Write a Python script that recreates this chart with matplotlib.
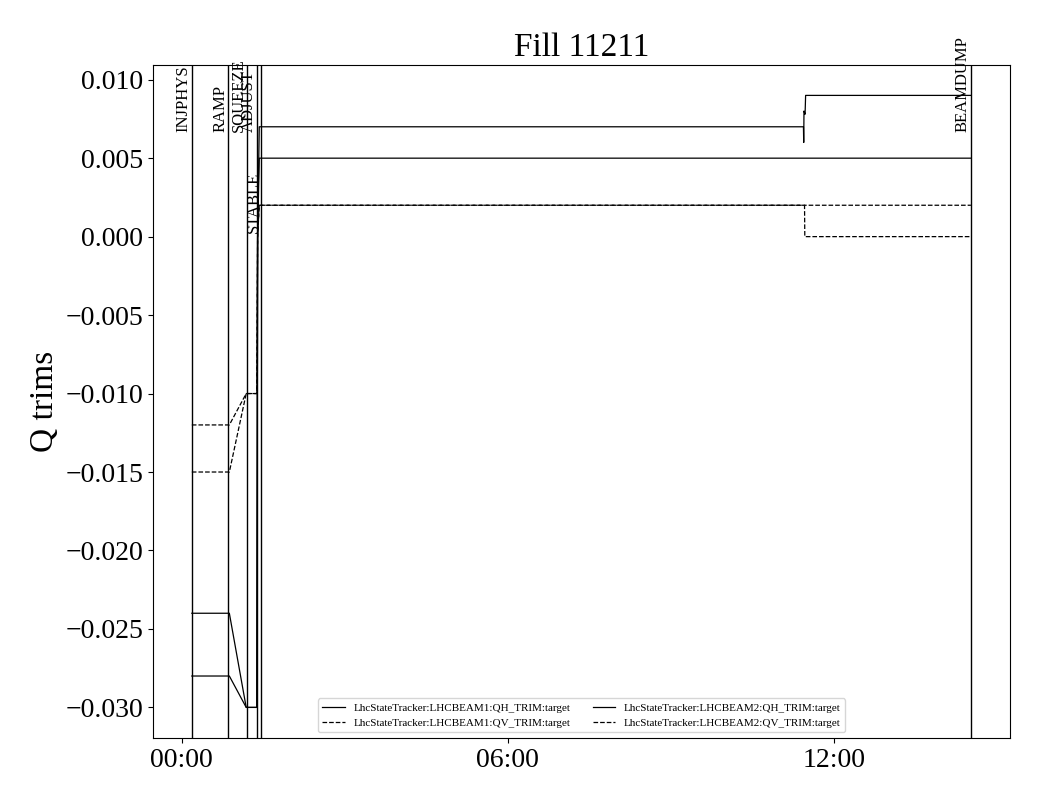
import datetime as dt
import matplotlib
matplotlib.use("Agg")
import matplotlib.pyplot as plt
import matplotlib.dates as mdates
import matplotlib.transforms as mtransforms
import matplotlib.ticker as mticker

plt.rcParams['font.family'] = ['Liberation Serif', 'DejaVu Serif']

BASE = dt.datetime(2025, 6, 1, 0, 0)

def T(h):
    return BASE + dt.timedelta(hours=h)

# phase markers (hours after 00:00)
phase_names = ["INJPHYS", "RAMP", "SQUEEZE", "ADJUST", "STABLE", "BEAMDUMP"]
phase_hours = [0.19, 0.86, 1.20, 1.38, 1.47, 14.52]
phase_label_y = [0.9, 0.9, 0.9, 0.9, 0.75, 0.9]

# series: (hours, values)
b1_qh_h = [0.19, 0.88, 1.19, 1.385, 1.40, 1.43, 14.52]
b1_qh_v = [-0.028, -0.028, -0.030, -0.030, 0.000, 0.005, 0.005]

b1_qv_h = [0.19, 0.88, 1.19, 1.385, 1.40, 1.43, 14.52]
b1_qv_v = [-0.012, -0.012, -0.010, -0.010, 0.000, 0.002, 0.002]

b2_qh_h = [0.19, 0.88, 1.19, 1.385, 1.40, 1.43, 11.44, 11.445, 11.45, 11.47, 11.48, 14.52]
b2_qh_v = [-0.024, -0.024, -0.030, -0.030, 0.000, 0.007, 0.007, 0.006, 0.008, 0.0078, 0.009, 0.009]

b2_qv_h = [0.19, 0.88, 1.19, 1.385, 1.40, 1.43, 11.46, 11.465, 14.52]
b2_qv_v = [-0.015, -0.015, -0.010, -0.010, 0.000, 0.002, 0.002, 0.000, 0.000]

y_ticks = [0.010, 0.005, 0.0, -0.005, -0.010, -0.015, -0.020, -0.025, -0.030]

series = [
    ("LhcStateTracker:LHCBEAM1:QH_TRIM:target", b1_qh_h, b1_qh_v, "-"),
    ("LhcStateTracker:LHCBEAM1:QV_TRIM:target", b1_qv_h, b1_qv_v, "--"),
    ("LhcStateTracker:LHCBEAM2:QH_TRIM:target", b2_qh_h, b2_qh_v, "-"),
    ("LhcStateTracker:LHCBEAM2:QV_TRIM:target", b2_qv_h, b2_qv_v, "--"),
]

fig = plt.figure(figsize=(10.4, 8.0), dpi=100)
ax = fig.add_axes([0.147, 0.0775, 0.824, 0.8415])

for name, hh, vv, ls in series:
    ax.plot([T(h) for h in hh], vv, color="black", linestyle=ls, linewidth=0.9, label=name)

trans = mtransforms.blended_transform_factory(ax.transData, ax.transAxes)
for name, h, yl in zip(phase_names, phase_hours, phase_label_y):
    ax.axvline(T(h), color="black", linewidth=1.0)
    ax.text(T(h), yl, name, transform=trans, rotation=90, ha="right", va="bottom",
            fontsize=12)

def yfmt(v, pos):
    s = "%.3f" % abs(v)
    return ("\u2212" + s) if v < -1e-12 else s

ax.set_yticks(y_ticks)
ax.yaxis.set_major_formatter(mticker.FuncFormatter(yfmt))
ax.xaxis.set_major_locator(mdates.HourLocator(byhour=[0, 6, 12]))
ax.xaxis.set_major_formatter(mdates.DateFormatter("%H:%M"))
ax.tick_params(labelsize=20)
ax.set_ylabel("Q trims", fontsize=24)
ax.set_title("Fill 11211", fontsize=24)

ax.legend(loc="lower center", ncol=2, fontsize=8, frameon=True)

fig.savefig("out.png", dpi=100)
